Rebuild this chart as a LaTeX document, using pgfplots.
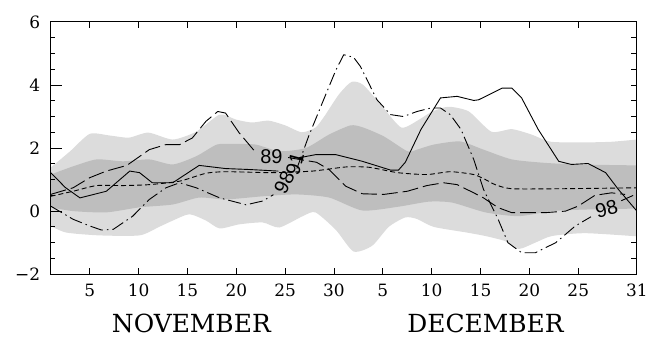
\documentclass[border=0pt]{standalone}
\usepackage{fontspec}
\setmainfont{DejaVu Serif}
\newfontfamily\lblfont{Liberation Sans}
\usepackage{pgfplots}
\pgfplotsset{compat=1.18}
\usepgfplotslibrary{fillbetween}
\definecolor{lightband}{RGB}{220,220,220}
\definecolor{darkband}{RGB}{190,190,190}
\begin{document}
\begin{tikzpicture}
\begin{axis}[
  scale only axis, width=588pt, height=253pt,
  xmin=1, xmax=61, ymin=-2, ymax=6,
  axis line style={line width=0.9pt},
  tick style={line width=0.9pt, black},
  tick align=inside,
  major tick length=6pt,
  xtick={5,10,15,20,25,30,35,40,45,50,55,61},
  xticklabels={5,10,15,20,25,30,5,10,15,20,25,31},
  xtick pos=both,
  ytick={-2,-1.5,...,6},
  yticklabels={},
  ytick pos=right,
  xticklabel style={font=\fontsize{17}{17}\selectfont, yshift=-6.5pt},
  clip=true,
]
% light band
\addplot[name path=lu, draw=none, smooth, tension=0.4] coordinates {
(1,1.38)(3,1.9)(5,2.45)(7,2.4)(9,2.33)(11,2.49)(13.5,2.27)(15.9,2.52)(18.3,3.06)(20,2.9)(21.6,2.81)(23.3,2.87)(25,2.72)(26.7,2.5)(28.1,2.65)(29,3.0)(30.5,3.7)(31.8,4.1)(33,4.0)(35,3.3)(36.9,2.65)(38.7,2.9)(40,3.15)(41.7,3.31)(43.8,3.16)(46.1,2.52)(48.2,2.6)(50.2,2.43)(52.2,2.2)(55.7,2.18)(58.4,2.2)(61,2.27)};
\addplot[name path=ll, draw=none, smooth, tension=0.4] coordinates {
(1,-0.47)(2.6,-0.68)(6,-0.77)(10.1,-0.77)(12.1,-0.5)(13.5,-0.3)(15.2,-0.1)(16.9,-0.3)(18.3,-0.55)(20.3,-0.42)(22.7,-0.36)(24.4,-0.52)(26.8,-0.16)(28.1,-0.04)(30.2,-0.6)(32,-1.28)(33.9,-1.1)(35.6,-0.5)(37.3,-0.2)(38.5,-0.25)(40.2,-0.5)(43.6,-0.68)(45.5,-0.79)(47.5,-0.95)(48.9,-1.2)(50.6,-1.0)(52.3,-0.79)(55.7,-0.7)(61,-0.8)};
\addplot[lightband, draw=none] fill between[of=lu and ll];
% dark band
\addplot[name path=du, draw=none, smooth, tension=0.4] coordinates {
(1,1.16)(3.3,1.42)(5.7,1.64)(8.4,1.58)(11.1,1.64)(13.5,1.48)(15.9,1.74)(18,2.11)(19.6,2.13)(22,2.11)(24.4,1.9)(27.1,2.0)(29.5,2.43)(31.7,2.72)(33,2.65)(35.1,2.37)(37.5,1.9)(38.5,1.95)(40.2,2.11)(42.9,2.21)(45.3,1.95)(48.2,1.64)(51.6,1.53)(55,1.48)(61,1.45)};
\addplot[name path=dl, draw=none, smooth, tension=0.4] coordinates {
(1,0.12)(3.3,0)(6.7,-0.04)(10.1,0.12)(13.5,0.21)(16.2,0.43)(18.9,0.37)(22.7,0.47)(26.1,0.53)(29.5,0.43)(32.9,0.02)(36.6,0.14)(39.7,0.3)(42.1,0.27)(45.5,-0.04)(48.9,-0.16)(52.3,0)(55.7,0.05)(61,0.08)};
\addplot[darkband, draw=none] fill between[of=du and dl];
% short dash (mean)
\addplot[black, line width=0.9pt, dash pattern=on 5pt off 3pt, smooth, tension=0.4] coordinates {
(1,0.47)(3.3,0.63)(5.7,0.81)(8.4,0.81)(11.1,0.84)(14.2,0.95)(16.9,1.2)(19,1.25)(23.7,1.22)(27.8,1.27)(31.2,1.4)(33.6,1.39)(36.5,1.22)(39.5,1.16)(41.9,1.25)(44.3,1.16)(45.5,1.0)(46.5,0.84)(48.2,0.71)(53.3,0.71)(61,0.74)};
% solid (91)
\addplot[black, line width=0.9pt] coordinates {
(1,1.22)(2.5,0.75)(4,0.42)(6.7,0.63)(9.1,1.27)(10.1,1.22)(11.4,0.9)(13.5,0.9)(16.2,1.45)(18.9,1.35)(21.3,1.32)(24.3,1.27)};
\addplot[black, line width=0.9pt] coordinates {
(26.4,1.69)(28.1,1.79)(30.2,1.79)(32.9,1.58)(35.8,1.3)(36.6,1.3)(37.3,1.55)(38.9,2.59)(40.9,3.59)(42.6,3.64)(44.3,3.51)(44.8,3.53)(47.2,3.9)(48.2,3.9)(49.2,3.59)(50.9,2.59)(53,1.58)(54.3,1.48)(56,1.51)(57.8,1.22)(59.1,0.69)(61,0.0)};
% long dash (89)
\addplot[black, line width=0.9pt, dash pattern=on 16pt off 5pt] coordinates {
(1,0.53)(3.3,0.74)(5,1.06)(6.7,1.27)(8.8,1.45)(11.1,1.95)(12.8,2.11)(14.2,2.11)(15.5,2.32)(16.9,2.85)(18.1,3.16)(18.9,3.11)(20.3,2.48)(22.1,1.82)};
\addplot[black, line width=0.9pt, dash pattern=on 16pt off 5pt] coordinates {
(25.3,1.7)(28.2,1.55)(29.5,1.32)(31.2,0.79)(32.9,0.55)(35.1,0.53)(37.5,0.63)(39.5,0.81)(41.2,0.9)(42.6,0.84)(44.3,0.58)(45.3,0.42)(46.8,0.11)(48.2,-0.05)(51.6,-0.05)(53.7,0)(55,0.16)(56.7,0.5)(58.4,0.58)(59.8,0.53)};
% dash dot (98)
\addplot[black, line width=0.9pt, dash pattern=on 13pt off 4pt on 1.5pt off 4pt] coordinates {
(1,0.16)(3.3,-0.26)(5,-0.47)(6.2,-0.6)(7.4,-0.58)(9.4,-0.16)(11.1,0.37)(12.8,0.74)(14.2,0.9)(15.9,0.74)(18.3,0.42)(21,0.2)(22.7,0.32)(23.8,0.52)};
\addplot[black, line width=0.9pt, dash pattern=on 13pt off 4pt on 1.5pt off 4pt] coordinates {
(26.2,1.35)(27.4,2.37)(28.8,3.43)(30.2,4.48)(31,4.96)(32,4.88)(32.7,4.59)(34.4,3.53)(35.8,3.06)(37.1,3.0)(38.5,3.16)(39.9,3.27)(40.9,3.27)(41.9,3.06)(43,2.59)(44.3,1.64)(45.3,0.69)(45.8,0.37)(46.8,-0.26)(47.8,-1.0)(49.2,-1.32)(50.6,-1.32)(52.7,-1.0)(54.7,-0.47)(56.3,-0.18)};
\addplot[black, line width=0.9pt, dash pattern=on 13pt off 4pt on 1.5pt off 4pt] coordinates {
(59.4,0.33)(61,0.55)};
% line labels
\node[font=\lblfont\fontsize{20}{20}\selectfont, inner sep=0pt] at (axis cs:23.6,1.74) {89};
\node[font=\lblfont\fontsize{20}{20}\selectfont, inner sep=0pt, rotate=75] at (axis cs:26.0,1.5) {91};
\node[font=\lblfont\fontsize{20}{20}\selectfont, inner sep=0pt, rotate=63] at (axis cs:24.9,0.9) {98};
\node[font=\lblfont\fontsize{20}{20}\selectfont, inner sep=0pt, rotate=15] at (axis cs:57.9,0.08) {98};
\end{axis}
\begin{axis}[
  scale only axis, width=588pt, height=253pt,
  xmin=1, xmax=61, ymin=-2, ymax=6,
  axis line style={line width=0.9pt},
  tick style={line width=0.9pt, black},
  tick align=inside,
  major tick length=11pt, minor tick length=4.5pt,
  xtick=\empty,
  ytick={-2,0,2,4,6},
  yticklabels={−2,0,2,4,6},
  minor ytick={-1.5,-1,-0.5,0.5,1,1.5,2.5,3,3.5,4.5,5,5.5},
  ytick pos=left,
  yticklabel style={font=\fontsize{17}{17}\selectfont, xshift=-7pt},
  clip=false,
]
\addplot[draw=none, forget plot] coordinates {(1,-2)(61,6)};
\node[font=\fontsize{25}{25}\selectfont, inner sep=0pt] at (axis cs:15.4,-3.56) {NOVEMBER};
\node[font=\fontsize{25}{25}\selectfont, inner sep=0pt] at (axis cs:45.5,-3.56) {DECEMBER};
\end{axis}
\path (-50.8pt,-64pt) rectangle (600.2pt,275pt);
\end{tikzpicture}
\end{document}
